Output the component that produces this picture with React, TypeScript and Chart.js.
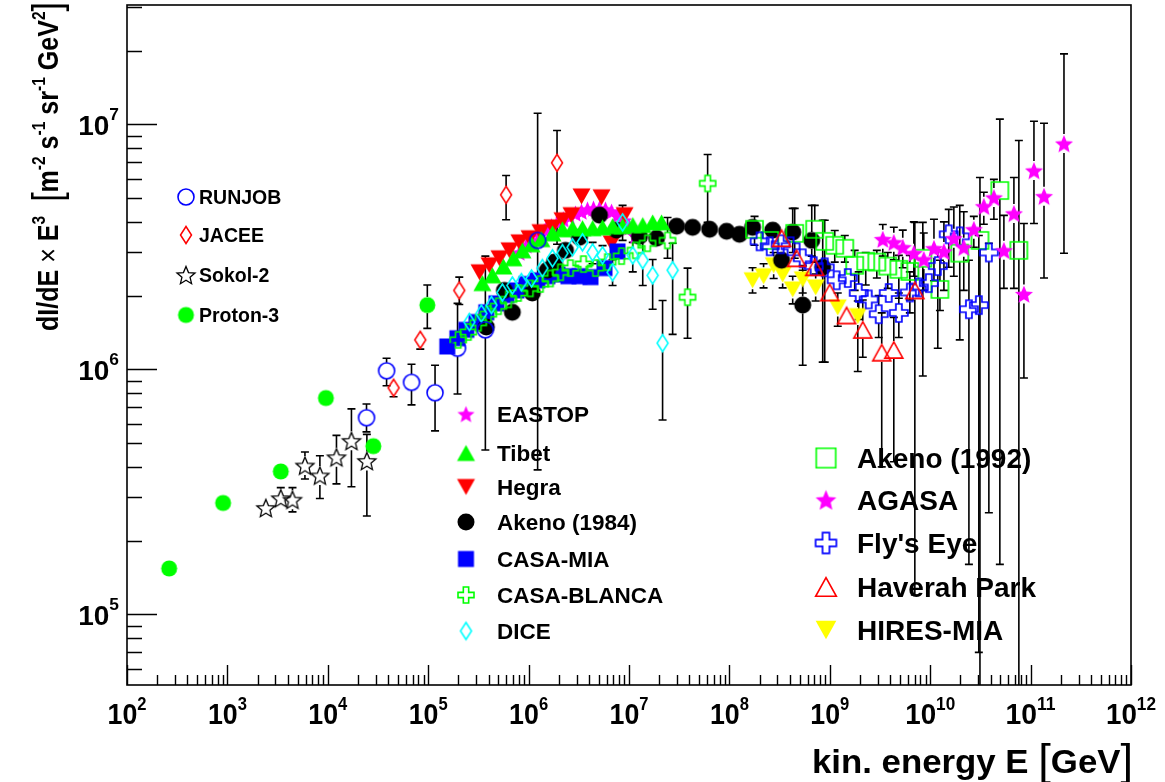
import React, { useEffect, useRef } from 'react';
import { Chart, registerables } from 'chart.js';

Chart.register(...registerables);

const FONT = '"Liberation Sans", Arial, Helvetica, sans-serif';

// ---------------- data (kinetic energy E [GeV], flux dI/dE*E^3) ----------------
const PROTON3_E = [263, 906, 3400, 9570, 28400, 98000];
const PROTON3_F = [1.54e5, 2.85e5, 3.83e5, 7.64e5, 4.86e5, 1.83e6];
const PROTON3_HI = [null, null, null, null, null, 2.21e6];
const PROTON3_LO = [null, null, null, null, null, 1.47e6];

const SOKOL_E = [2415, 3400, 4450, 5920, 8340, 12200, 17200, 24500];
const SOKOL_F = [2.72e5, 2.98e5, 2.94e5, 4.05e5, 3.69e5, 4.38e5, 5.11e5, 4.23e5];
const SOKOL_HI = [2.94e5, 3.29e5, 3.29e5, 4.6e5, 4.44e5, 5.38e5, 6.9e5, 5.43e5];
const SOKOL_LO = [2.6e5, 2.75e5, 2.62e5, 3.57e5, 2.97e5, 3.41e5, 3.32e5, 2.52e5];

const RUNJOB_E = [24300, 38500, 68200, 1.17e5, 1.96e5, 3.71e5, 1.23e6];
const RUNJOB_F = [6.35e5, 9.87e5, 8.85e5, 8.03e5, 1.22e6, 1.45e6, 3.36e6];
const RUNJOB_HI = [7.22e5, 1.11e6, 1.05e6, 1.04e6, 1.86e6, 2.9e6, 1.11e7];
const RUNJOB_LO = [5.56e5, 8.57e5, 7.16e5, 5.61e5, 7.93e5, 4.69e5, 3.89e5];

const JACEE_E = [45200, 83400, 2.04e5, 5.97e5, 1.92e6];
const JACEE_F = [8.41e5, 1.32e6, 2.1e6, 5.16e6, 6.97e6];
const JACEE_HI = [9.04e5, 1.42e6, 2.38e6, 6.18e6, 9.44e6];
const JACEE_LO = [7.73e5, 1.21e6, 1.84e6, 4.08e6, 3.24e6];

const EASTOP_E = [8.09e5, 9.51e5, 1.09e6, 1.28e6, 1.47e6, 1.69e6, 1.94e6, 2.22e6, 2.55e6, 2.93e6, 3.36e6, 3.86e6, 4.43e6, 5.08e6, 5.83e6, 6.7e6, 7.68e6, 8.81e6, 1.01e7, 1.16e7];
const EASTOP_F = [3.0e6, 3.21e6, 3.36e6, 3.52e6, 3.7e6, 3.84e6, 3.98e6, 4.1e6, 4.21e6, 4.33e6, 4.41e6, 4.5e6, 4.54e6, 4.54e6, 4.5e6, 4.41e6, 4.26e6, 4.06e6, 3.8e6, 3.52e6];

const TIBET_E = [3.46e5, 4.36e5, 5.61e5, 7.06e5, 8.67e5, 1.07e6, 1.34e6, 1.73e6, 2.17e6, 2.74e6, 3.44e6, 4.34e6, 5.45e6, 6.86e6, 8.63e6, 1.09e7, 1.37e7, 1.72e7, 2.11e7];
const TIBET_F = [2.25e6, 2.42e6, 2.63e6, 2.84e6, 3.06e6, 3.24e6, 3.4e6, 3.59e6, 3.73e6, 3.77e6, 3.77e6, 3.77e6, 3.8e6, 3.84e6, 3.84e6, 3.88e6, 3.88e6, 3.98e6, 3.98e6];

const HEGRA_E = [3.24e5, 4.07e5, 5.12e5, 6.44e5, 8.09e5, 1.02e6, 1.31e6, 1.73e6, 2.17e6, 2.67e6, 3.36e6, 5.32e6, 6.7e6, 9.02e6];
const HEGRA_F = [2.49e6, 2.66e6, 2.84e6, 3.06e6, 3.3e6, 3.43e6, 3.63e6, 3.8e6, 4.06e6, 4.26e6, 5.08e6, 5.04e6, 3.27e6, 4.26e6];

const AKENO84_E = [3.79e5, 5.74e5, 6.89e5, 1.09e6, 1.54e6, 1.81e6, 2.33e6, 3.21e6, 5.08e6, 7.5e6, 1.27e7, 1.88e7, 2.98e7, 4.3e7, 6.35e7, 9.38e7, 1.26e8, 1.7e8, 2.7e8, 4.27e8, 3.31e8, 6.61e8, 8.5e8, 5.37e8];
const AKENO84_F = [1.49e6, 2.1e6, 1.71e6, 2.05e6, 2.54e6, 2.74e6, 3.06e6, 3.46e6, 4.26e6, 3.7e6, 3.49e6, 3.43e6, 3.84e6, 3.8e6, 3.73e6, 3.66e6, 3.56e6, 3.8e6, 3.7e6, 3.63e6, 2.79e6, 3.36e6, 2.61e6, 1.83e6];
const AKENO84_HI = [null, null, null, null, null, null, null, null, null, null, null, null, null, null, null, null, null, null, null, 4.54e6, null, 4.67e6, 4.06e6, 2.54e6];
const AKENO84_LO = [null, null, null, null, null, null, null, null, null, null, null, null, null, null, null, null, null, null, null, 3.0e6, null, 2.9e6, 1.07e6, 1.04e6];

const CASAMIA_E = [1.55e5, 1.95e5, 2.4e5, 3.02e5, 3.79e5, 4.78e5, 6.01e5, 7.56e5, 9.51e5, 1.22e6, 1.54e6, 1.94e6, 2.49e6, 3.21e6, 4.13e6, 5.7e6, 7.68e6];
const CASAMIA_F = [1.24e6, 1.34e6, 1.45e6, 1.56e6, 1.71e6, 1.86e6, 2.01e6, 2.1e6, 2.23e6, 2.31e6, 2.4e6, 2.44e6, 2.4e6, 2.4e6, 2.38e6, 2.59e6, 3.03e6];

const CASABLANCA_E = [1.99e5, 2.51e5, 3.16e5, 3.97e5, 5.0e5, 6.3e5, 7.91e5, 1.04e6, 1.31e6, 1.65e6, 2.08e6, 2.61e6, 3.52e6, 4.64e6, 6.11e6, 8.42e6, 1.16e7, 1.53e7, 2.42e7, 3.83e7, 6.07e7];
const CASABLANCA_F = [1.32e6, 1.42e6, 1.55e6, 1.68e6, 1.81e6, 1.93e6, 2.05e6, 2.14e6, 2.23e6, 2.35e6, 2.49e6, 2.59e6, 2.69e6, 2.59e6, 2.74e6, 2.9e6, 3.06e6, 3.27e6, 3.36e6, 1.97e6, 5.74e6];
const CASABLANCA_HI = [null, null, null, null, null, null, null, null, null, null, null, null, null, null, null, null, null, null, 4.17e6, 2.59e6, 7.53e6];
const CASABLANCA_LO = [null, null, null, null, null, null, null, null, null, null, null, null, null, null, null, null, null, null, 2.84e6, 1.34e6, 3.98e6];

const DICE_E = [2.57e5, 3.38e5, 4.26e5, 5.48e5, 6.89e5, 8.47e5, 1.07e6, 1.37e6, 1.73e6, 2.17e6, 2.74e6, 3.44e6, 4.34e6, 5.45e6, 6.86e6, 8.63e6, 1.09e7, 1.37e7, 1.72e7, 2.16e7, 2.72e7];
const DICE_F = [1.56e6, 1.69e6, 1.83e6, 2.06e6, 2.2e6, 2.27e6, 2.35e6, 2.59e6, 2.84e6, 2.98e6, 3.15e6, 3.3e6, 3.0e6, 2.92e6, 2.49e6, 3.98e6, 2.92e6, 2.79e6, 2.42e6, 1.28e6, 2.54e6];
const DICE_HI = [null, null, null, null, null, null, null, null, null, null, null, null, 3.3e6, 3.2e6, 2.8e6, 4.67e6, 3.3e6, 3.36e6, 2.81e6, 1.91e6, 3.27e6];
const DICE_LO = [null, null, null, null, null, null, null, null, null, null, null, null, 2.7e6, 2.6e6, 2.2e6, 3.36e6, 2.5e6, 2.2e6, 1.76e6, 6.21e5, 1.39e6];

const AKENO92_E = [1.78e8, 2.52e8, 4.47e8, 7.08e8, 8.9e8, 1.12e9, 1.41e9, 1.77e9, 2.28e9, 2.94e9, 3.78e9, 4.87e9, 6.27e9, 8.44e9, 1.25e10, 1.97e10, 3.13e10, 4.94e10, 7.64e10];
const AKENO92_F = [3.73e6, 3.36e6, 3.59e6, 3.73e6, 3.33e6, 3.21e6, 3.12e6, 2.66e6, 2.76e6, 2.74e6, 2.64e6, 2.56e6, 2.51e6, 2.84e6, 2.12e6, 2.98e6, 3.36e6, 5.37e6, 3.06e6];
const AKENO92_HI = [4.21e6, null, 4.54e6, 4.67e6, 4.06e6, 3.69e6, 3.52e6, 3.06e6, 3.0e6, 3.06e6, 3.0e6, 2.92e6, 2.92e6, 3.98e6, 2.79e6, 4.67e6, 6.07e6, 1.05e7, 8.59e6];
const AKENO92_LO = [3.21e6, null, 2.84e6, 2.74e6, 1.07e6, 2.74e6, 2.74e6, 2.1e6, 2.21e6, 2.36e6, 2.14e6, 1.95e6, 1.92e6, 9.39e5, 1.74e6, 1.32e6, 3.0e4, 1.6e5, 3.0e4];

const AGASA_E = [3.37e9, 4.34e9, 5.33e9, 6.87e9, 8.63e9, 1.09e10, 1.37e10, 1.72e10, 2.16e10, 2.72e10, 3.42e10, 4.31e10, 5.42e10, 6.82e10, 8.58e10, 1.08e11, 1.36e11, 2.15e11];
const AGASA_F = [3.4e6, 3.3e6, 3.15e6, 2.98e6, 2.81e6, 3.12e6, 3.03e6, 3.43e6, 3.15e6, 3.73e6, 4.63e6, 5.03e6, 3.06e6, 4.33e6, 2.03e6, 6.48e6, 5.09e6, 8.35e6];
const AGASA_HI = [3.9e6, 3.8e6, 3.7e6, 4.0e6, 3.6e6, 4.1e6, 4.0e6, 4.6e6, 4.4e6, 4.21e6, 5.28e6, 5.96e6, 4.25e6, 6.07e6, 3.94e6, 1.03e7, 1.01e7, 1.94e7];
const AGASA_LO = [2.9e6, 2.8e6, 2.6e6, 2.4e6, 2.1e6, 2.3e6, 2.1e6, 2.4e6, 2.1e6, 3.15e6, 3.91e6, 4.1e6, 2.14e6, 2.14e6, 9.22e5, 3.94e6, 2.36e6, 2.98e6];

const FLYS_E = [2.0e8, 2.52e8, 3.24e8, 4.07e8, 5.37e8, 6.91e8, 8.9e8, 1.17e9, 1.51e9, 1.94e9, 2.44e9, 3.07e9, 3.86e9, 4.87e9, 6.27e9, 7.7e9, 9.69e9, 1.19e10, 1.53e10, 1.97e10, 2.43e10, 3.05e10, 3.84e10];
const FLYS_F = [3.33e6, 3.18e6, 3.24e6, 3.18e6, 2.84e6, 2.64e6, 2.61e6, 2.31e6, 2.36e6, 2.05e6, 1.93e6, 1.68e6, 2.05e6, 1.7e6, 2.06e6, 2.16e6, 2.25e6, 2.64e6, 3.56e6, 3.49e6, 1.76e6, 1.83e6, 3.0e6];
const FLYS_HI = [null, null, null, null, null, null, null, null, null, 2.5e6, null, 2.0e6, null, 2.05e6, 2.5e6, null, null, 3.06e6, 4.5e6, null, 2.79e6, 3.52e6, 3.27e6];
const FLYS_LO = [null, null, null, null, null, null, null, null, null, 1.6e6, null, 1.35e6, null, 1.35e6, 1.7e6, null, null, 1.22e6, 2.61e6, null, 1.6e5, 7.0e4, 2.6e5];

const HAVERAH_E = [3.31e8, 4.67e8, 7.08e8, 9.98e8, 1.47e9, 2.13e9, 3.29e9, 4.34e9, 7.03e9];
const HAVERAH_F = [3.43e6, 2.84e6, 2.61e6, 2.06e6, 1.66e6, 1.45e6, 1.17e6, 1.2e6, 2.1e6];
const HAVERAH_HI = [null, null, null, null, null, 1.92e6, 1.7e6, 1.63e6, 3.98e6];
const HAVERAH_LO = [null, null, null, null, null, 1.12e6, 4.0e5, 4.2e5, 1.2e5];

const HIRES_E = [1.7e8, 2.19e8, 2.76e8, 3.39e8, 4.27e8, 5.37e8, 7.23e8, 1.2e9, 1.9e9];
const HIRES_F = [2.31e6, 2.4e6, 2.66e6, 2.44e6, 2.12e6, 2.33e6, 2.16e6, 1.79e6, 1.65e6];
const HIRES_HI = [2.6e6, 2.7e6, 3.0e6, 2.75e6, 2.4e6, 2.65e6, 2.45e6, 2.05e6, 1.9e6];
const HIRES_LO = [2.05e6, 2.15e6, 2.35e6, 2.15e6, 1.85e6, 2.05e6, 1.9e6, 1.5e6, 9.8e5];

const X_TICK_EXP = [2, 3, 4, 5, 6, 7, 8, 9, 10, 11, 12];
const Y_TICK_EXP = [5, 6, 7];

const LEFT_LEGEND = ['RUNJOB', 'JACEE', 'Sokol-2', 'Proton-3'];
const MID_LEGEND = ['EASTOP', 'Tibet', 'Hegra', 'Akeno (1984)', 'CASA-MIA', 'CASA-BLANCA', 'DICE'];
const RIGHT_LEGEND = ['Akeno (1992)', 'AGASA', "Fly's Eye", 'Haverah Park', 'HIRES-MIA'];

// ---------------- styles ----------------
const GREEN = '#00ff00';
const MAGENTA = '#ff00ff';
const SERIES = [
  { label: 'RUNJOB', e: RUNJOB_E, f: RUNJOB_F, hi: RUNJOB_HI, lo: RUNJOB_LO, mk: { kind: 'circle', size: 16, color: '#0000ff', fill: false, lw: 1.6 }, order: 0 },
  { label: 'JACEE', e: JACEE_E, f: JACEE_F, hi: JACEE_HI, lo: JACEE_LO, mk: { kind: 'diamond', size: 17, w: 11, color: '#ff0000', fill: false, lw: 1.5 }, order: 1 },
  { label: 'Sokol-2', e: SOKOL_E, f: SOKOL_F, hi: SOKOL_HI, lo: SOKOL_LO, mk: { kind: 'star', size: 19, color: '#000000', fill: false, lw: 1.3 }, order: 2 },
  { label: 'Proton-3', e: PROTON3_E, f: PROTON3_F, hi: PROTON3_HI, lo: PROTON3_LO, mk: { kind: 'circle', size: 16, color: GREEN, fill: true }, order: 3 },
  { label: 'Haverah Park', e: HAVERAH_E, f: HAVERAH_F, hi: HAVERAH_HI, lo: HAVERAH_LO, mk: { kind: 'triUp', size: 18, color: '#ff0000', fill: false, lw: 1.6 }, order: 4 },
  { label: 'AGASA', e: AGASA_E, f: AGASA_F, hi: AGASA_HI, lo: AGASA_LO, mk: { kind: 'star', size: 19, color: MAGENTA, fill: true }, order: 5 },
  { label: "Fly's Eye", e: FLYS_E, f: FLYS_F, hi: FLYS_HI, lo: FLYS_LO, mk: { kind: 'cross', size: 18, color: '#0000ff', fill: false, lw: 1.7 }, order: 6 },
  { label: 'Akeno (1992)', e: AKENO92_E, f: AKENO92_F, hi: AKENO92_HI, lo: AKENO92_LO, mk: { kind: 'square', size: 17, color: GREEN, fill: false, lw: 1.6 }, order: 7 },
  { label: 'DICE', e: DICE_E, f: DICE_F, hi: DICE_HI, lo: DICE_LO, mk: { kind: 'diamond', size: 17, w: 11, color: '#00ffff', fill: false, lw: 1.6 }, order: 8 },
  { label: 'CASA-BLANCA', e: CASABLANCA_E, f: CASABLANCA_F, hi: CASABLANCA_HI, lo: CASABLANCA_LO, mk: { kind: 'cross', size: 16, color: GREEN, fill: false, lw: 1.6 }, order: 9 },
  { label: 'Tibet', e: TIBET_E, f: TIBET_F, hi: null, lo: null, mk: { kind: 'triUp', size: 18, color: GREEN, fill: true }, order: 10 },
  { label: 'Akeno (1984)', e: AKENO84_E, f: AKENO84_F, hi: AKENO84_HI, lo: AKENO84_LO, mk: { kind: 'circle', size: 17, color: '#000000', fill: true }, order: 11 },
  { label: 'HIRES-MIA', e: HIRES_E, f: HIRES_F, hi: HIRES_HI, lo: HIRES_LO, mk: { kind: 'triDown', size: 18, color: '#ffff00', fill: true }, order: 12 },
  { label: 'CASA-MIA', e: CASAMIA_E, f: CASAMIA_F, hi: null, lo: null, mk: { kind: 'square', size: 16, color: '#0000ff', fill: true }, order: 13 },
  { label: 'Hegra', e: HEGRA_E, f: HEGRA_F, hi: null, lo: null, mk: { kind: 'triDown', size: 18, color: '#ff0000', fill: true }, order: 14 },
  { label: 'EASTOP', e: EASTOP_E, f: EASTOP_F, hi: null, lo: null, mk: { kind: 'star', size: 18, color: MAGENTA, fill: true }, order: 15 },
];

function makeMarker(m: any, scale = 1): HTMLCanvasElement {
  const lw = m.lw ?? 1.5;
  const size = m.size * scale;
  const dim = Math.ceil(size + lw * 2 + 2);
  const c = document.createElement('canvas');
  c.width = dim;
  c.height = dim;
  const g = c.getContext('2d')!;
  const cx = dim / 2, cy = dim / 2, r = size / 2;
  g.beginPath();
  if (m.kind === 'circle') {
    g.arc(cx, cy, r, 0, Math.PI * 2);
  } else if (m.kind === 'square') {
    g.rect(cx - r, cy - r, 2 * r, 2 * r);
  } else if (m.kind === 'diamond') {
    const hw = ((m.w ?? size * 0.65) * scale) / 2;
    g.moveTo(cx, cy - r); g.lineTo(cx + hw, cy); g.lineTo(cx, cy + r); g.lineTo(cx - hw, cy); g.closePath();
  } else if (m.kind === 'triUp') {
    const h = r * 0.9;
    g.moveTo(cx, cy - h); g.lineTo(cx + r, cy + h); g.lineTo(cx - r, cy + h); g.closePath();
  } else if (m.kind === 'triDown') {
    const h = r * 0.9;
    g.moveTo(cx, cy + h); g.lineTo(cx + r, cy - h); g.lineTo(cx - r, cy - h); g.closePath();
  } else if (m.kind === 'star') {
    for (let i = 0; i < 10; i++) {
      const ang = -Math.PI / 2 + (i * Math.PI) / 5;
      const rr = i % 2 === 0 ? r : r * 0.45;
      const px = cx + rr * Math.cos(ang), py = cy + 1 + rr * Math.sin(ang);
      if (i === 0) g.moveTo(px, py); else g.lineTo(px, py);
    }
    g.closePath();
  } else if (m.kind === 'cross') {
    const a = r / 3;
    const pts = [[-a, -r], [a, -r], [a, -a], [r, -a], [r, a], [a, a], [a, r], [-a, r], [-a, a], [-r, a], [-r, -a], [-a, -a]];
    pts.forEach(([px, py], i) => (i ? g.lineTo(cx + px, cy + py) : g.moveTo(cx + px, cy + py)));
    g.closePath();
  }
  if (m.fill) {
    g.fillStyle = m.color;
    g.fill();
  } else {
    g.strokeStyle = m.color;
    g.lineWidth = lw;
    g.lineJoin = 'miter';
    g.stroke();
  }
  return c;
}

type Seg = { t: string; sup?: boolean; normal?: boolean; k?: number; dy?: number };

function drawRich(ctx: CanvasRenderingContext2D, segs: Seg[], x: number, y: number, size: number, align: string, targetW?: number, supK = 0.62, supRise = 0.45) {
  const fontOf = (s: Seg) => `${s.normal ? 'normal' : 'bold'} ${size * (s.sup ? supK : 1) * (s.k ?? 1)}px ${FONT}`;
  const ws = segs.map((s) => { ctx.font = fontOf(s); return ctx.measureText(s.t).width; });
  const total = ws.reduce((a, b) => a + b, 0);
  const sx = targetW ? targetW / total : 1;
  const W = total * sx;
  const x0 = align === 'left' ? x : align === 'right' ? x - W : x - W / 2;
  ctx.save();
  ctx.translate(x0, y);
  ctx.scale(sx, 1);
  ctx.textAlign = 'left';
  ctx.textBaseline = 'alphabetic';
  ctx.fillStyle = '#000';
  let cx = 0;
  segs.forEach((s, i) => {
    ctx.font = fontOf(s);
    ctx.fillText(s.t, cx, s.sup ? -size * supRise : s.dy ?? 0);
    cx += ws[i];
  });
  ctx.restore();
}

export default function App() {
  const ref = useRef<HTMLCanvasElement>(null);
  useEffect(() => {
    document.body.style.margin = '0';
    const canvas = ref.current!;
    const markers = SERIES.map((s) => makeMarker(s.mk));
    const byLabel: any = {};
    SERIES.forEach((s) => (byLabel[s.label] = s));

    const datasets = SERIES.map((s, i) => ({
      label: s.label,
      data: s.e.map((x, j) => ({ x, y: s.f[j], hi: s.hi ? s.hi[j] : null, lo: s.lo ? s.lo[j] : null })),
      pointStyle: markers[i],
      pointRadius: s.mk.size / 2,
      pointHoverRadius: s.mk.size / 2,
      showLine: false,
      order: s.order,
      markerHalf: s.mk.size / 2,
    }));

    const errorBars = {
      id: 'errorBars',
      beforeDatasetsDraw(chart: any) {
        const ctx = chart.ctx;
        const { left, right, top, bottom } = chart.chartArea;
        const ys = chart.scales.y;
        ctx.save();
        ctx.beginPath();
        ctx.rect(left, top, right - left, bottom - top);
        ctx.clip();
        ctx.strokeStyle = '#000';
        ctx.lineWidth = 1.6;
        chart.data.datasets.forEach((ds: any, di: number) => {
          const meta = chart.getDatasetMeta(di);
          const half = ds.markerHalf;
          ds.data.forEach((p: any, i: number) => {
            const el = meta.data[i];
            if (!el) return;
            const x = el.x, y = el.y;
            ctx.beginPath();
            if (p.hi != null) {
              const yh = ys.getPixelForValue(p.hi);
              if (yh < y - half) {
                ctx.moveTo(x, y - half); ctx.lineTo(x, yh);
                ctx.moveTo(x - 4, yh); ctx.lineTo(x + 4, yh);
              }
            }
            if (p.lo != null) {
              const yl = ys.getPixelForValue(p.lo);
              if (yl > y + half) {
                ctx.moveTo(x, y + half); ctx.lineTo(x, yl);
                ctx.moveTo(x - 4, yl); ctx.lineTo(x + 4, yl);
              }
            }
            ctx.stroke();
          });
        });
        ctx.restore();
      },
    };

    const deco = {
      id: 'deco',
      afterDraw(chart: any) {
        const ctx = chart.ctx;
        const { left, right, top, bottom } = chart.chartArea;
        const xs = chart.scales.x, ys = chart.scales.y;
        ctx.save();
        ctx.strokeStyle = '#000';
        ctx.lineWidth = 1.6;
        ctx.strokeRect(left, top, right - left, bottom - top);
        ctx.lineWidth = 1.4;
        ctx.beginPath();
        for (let e = 4; e <= 7; e++) {
          for (let m = 1; m <= 9; m++) {
            const v = m * Math.pow(10, e);
            if (v < ys.min || v > ys.max) continue;
            const py = Math.round(ys.getPixelForValue(v)) + 0.5;
            ctx.moveTo(left, py); ctx.lineTo(left + (m === 1 ? 30 : 15), py);
          }
        }
        for (let e = 2; e <= 12; e++) {
          for (let m = 1; m <= 9; m++) {
            const v = m * Math.pow(10, e);
            if (v > xs.max * 1.0001) continue;
            const px = Math.round(xs.getPixelForValue(v)) + 0.5;
            ctx.moveTo(px, bottom); ctx.lineTo(px, bottom - (m === 1 ? 20 : 10));
          }
        }
        ctx.stroke();

        // tick labels
        Y_TICK_EXP.forEach((e) => {
          const py = ys.getPixelForValue(Math.pow(10, e));
          drawRich(ctx, [{ t: '10' }, { t: String(e), sup: true }], 119, py + 11, 28, 'right', undefined, 0.62, 0.55);
        });
        X_TICK_EXP.forEach((e) => {
          const px = xs.getPixelForValue(Math.pow(10, e));
          drawRich(ctx, [{ t: '10' }, { t: String(e), sup: true }], px, 724, 29, 'center', e >= 10 ? 50 : 39, 0.62, 0.5);
        });

        // x title
        drawRich(ctx, [
          { t: 'kin. energy E ' },
          { t: '[', normal: true, k: 1.3, dy: 2 },
          { t: 'GeV' },
          { t: ']', normal: true, k: 1.3, dy: 2 },
        ], 1133, 773, 34, 'right', 321);

        // y title (rotated)
        ctx.save();
        ctx.translate(58, 331);
        ctx.rotate(-Math.PI / 2);
        drawRich(ctx, [
          { t: 'dI/dE' },
          { t: ' \u00d7 ', normal: true },
          { t: 'E' },
          { t: '3', sup: true },
          { t: '  ' },
          { t: '[', normal: true, k: 1.35, dy: 3 },
          { t: 'm' },
          { t: '-2', sup: true },
          { t: ' s' },
          { t: '-1', sup: true },
          { t: ' sr' },
          { t: '-1', sup: true },
          { t: ' GeV' },
          { t: '2', sup: true },
          { t: ']', normal: true, k: 1.35, dy: 3 },
        ], 0, 0, 30, 'left', 329);
        ctx.restore();

        // legends
        const drawLegend = (labels: string[], mx: number, tx: number, ys0: number[], size: number, mscale: number) => {
          labels.forEach((lab, i) => {
            const s = byLabel[lab];
            const img = makeMarker(s.mk, mscale);
            const y = ys0[i];
            ctx.drawImage(img, mx - img.width / 2, y - img.height / 2);
            drawRich(ctx, [{ t: lab }], tx, y + size * 0.36, size, 'left');
          });
        };
        drawLegend(LEFT_LEGEND, 186, 199, [197, 235, 275, 315], 19.5, 1);
        drawLegend(MID_LEGEND, 466, 497, [414, 453, 487, 522, 559, 595, 631], 22.5, 1);
        drawLegend(RIGHT_LEGEND, 826, 857, [458, 500, 543, 587, 630], 28, 1.15);
        ctx.restore();
      },
    };

    const chart = new Chart(canvas, {
      type: 'scatter',
      data: { datasets: datasets as any },
      options: {
        animation: false,
        responsive: false,
        devicePixelRatio: 1,
        events: [],
        layout: { autoPadding: false, padding: { left: 127, right: 34, top: 5, bottom: 97 } },
        plugins: { legend: { display: false }, tooltip: { enabled: false } },
        scales: {
          x: { type: 'logarithmic', min: 100, max: 1e12, display: false },
          y: { type: 'logarithmic', min: 5.15e4, max: 3.07e7, display: false },
        },
      } as any,
      plugins: [errorBars, deco],
    });
    return () => chart.destroy();
  }, []);
  return <canvas ref={ref} width={1165} height={782} style={{ display: 'block', width: 1165, height: 782 }} />;
}
